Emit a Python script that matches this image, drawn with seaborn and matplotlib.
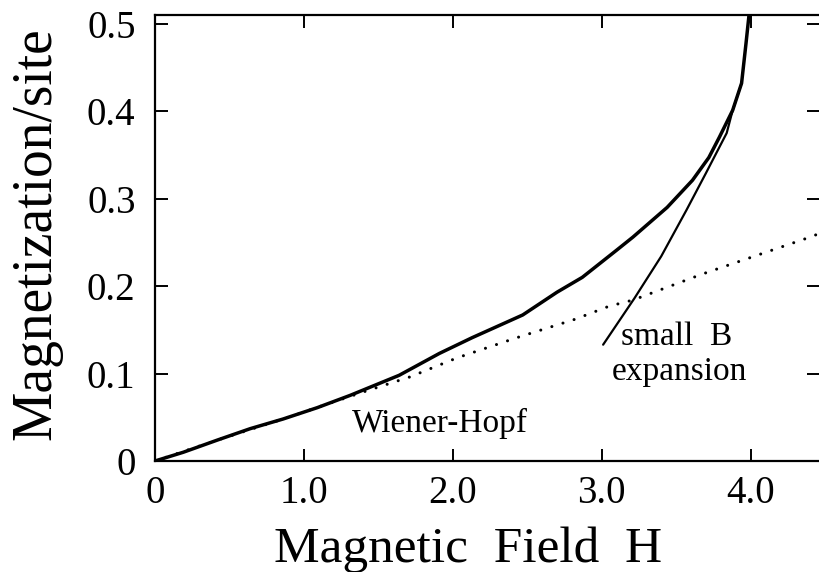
import matplotlib
matplotlib.use("Agg")
import matplotlib.pyplot as plt
import seaborn as sns

# exact magnetization curve (solid, thick)
field_exact = [0.0, 0.19, 0.42, 0.64, 0.86, 1.09, 1.31, 1.64, 1.91, 2.13, 2.47,
               2.70, 2.87, 3.10, 3.21, 3.44, 3.61, 3.72, 3.79, 3.88, 3.94, 3.97,
               3.99]
mag_exact = [0.0, 0.010, 0.024, 0.037, 0.048, 0.061, 0.075, 0.098, 0.123, 0.141,
             0.167, 0.193, 0.210, 0.241, 0.256, 0.290, 0.321, 0.347, 0.370, 0.401,
             0.432, 0.478, 0.51]

# small B expansion (thin solid)
field_smallb = [3.01, 3.22, 3.31, 3.40, 3.57, 3.70, 3.84, 3.88, 3.94]
mag_smallb = [0.133, 0.186, 0.210, 0.234, 0.287, 0.329, 0.375, 0.401, 0.432]

# Wiener-Hopf (dotted)
field_wh = [0.0, 0.42, 0.86, 1.40, 1.71, 2.03, 2.43, 2.82, 3.05, 3.21, 3.68,
            4.40, 4.46]
mag_wh = [0.0, 0.024, 0.048, 0.079, 0.096, 0.118, 0.141, 0.162, 0.177, 0.184,
          0.214, 0.256, 0.260]

x_ticks = [0, 1, 2, 3, 4]
x_ticklabels = ["0", "1.0", "2.0", "3.0", "4.0"]
y_ticks = [0, 0.1, 0.2, 0.3, 0.4, 0.5]
y_ticklabels = ["0", "0.1", "0.2", "0.3", "0.4", "0.5"]

sns.set_theme(style="ticks")
plt.rcParams['font.family'] = ['Liberation Serif', 'DejaVu Serif']

fig = plt.figure(figsize=(8.19, 5.72), dpi=100)
ax = fig.add_axes([155 / 819, 111 / 572, 664 / 819, 446 / 572])

sns.lineplot(x=field_wh, y=mag_wh, ax=ax, color="black", lw=2.2, sort=False,
             estimator=None, linestyle=(0, (0.01, 3.8)), dash_capstyle="round")
sns.lineplot(x=field_smallb, y=mag_smallb, ax=ax, color="black", lw=1.6,
             sort=False, estimator=None)
sns.lineplot(x=field_exact, y=mag_exact, ax=ax, color="black", lw=2.5,
             sort=False, estimator=None)

ax.set_xlim(0, 4.46)
ax.set_ylim(0, 0.51)
ax.set_xticks(x_ticks)
ax.set_xticklabels(x_ticklabels)
ax.set_yticks(y_ticks)
ax.set_yticklabels(y_ticklabels)

ax.tick_params(direction="in", top=True, right=True, length=9, width=1.4,
               color="black", labelcolor="black", labelsize=28)
ax.tick_params(axis="x", pad=10)
ax.tick_params(axis="y", pad=14)

for side in ["left", "bottom", "top"]:
    ax.spines[side].set_linewidth(1.6)
    ax.spines[side].set_color("black")
ax.spines["right"].set_visible(False)

ax.set_xlabel("Magnetic  Field  H", fontsize=37, color="black")
ax.set_ylabel("Magnetization/site", fontsize=40, color="black")
ax.xaxis.label.set_va("baseline")
ax.xaxis.set_label_coords(0.471, -0.226)
ax.yaxis.label.set_va("baseline")
ax.yaxis.set_label_coords(-0.158, 0.51)

ax.text(1.32, 0.033, "Wiener-Hopf", fontsize=24, color="black", va="baseline")
ax.text(3.13, 0.133, "small  B", fontsize=24, color="black", va="baseline")
ax.text(3.07, 0.093, "expansion", fontsize=24, color="black", va="baseline")

fig.savefig("out.png", dpi=100)
